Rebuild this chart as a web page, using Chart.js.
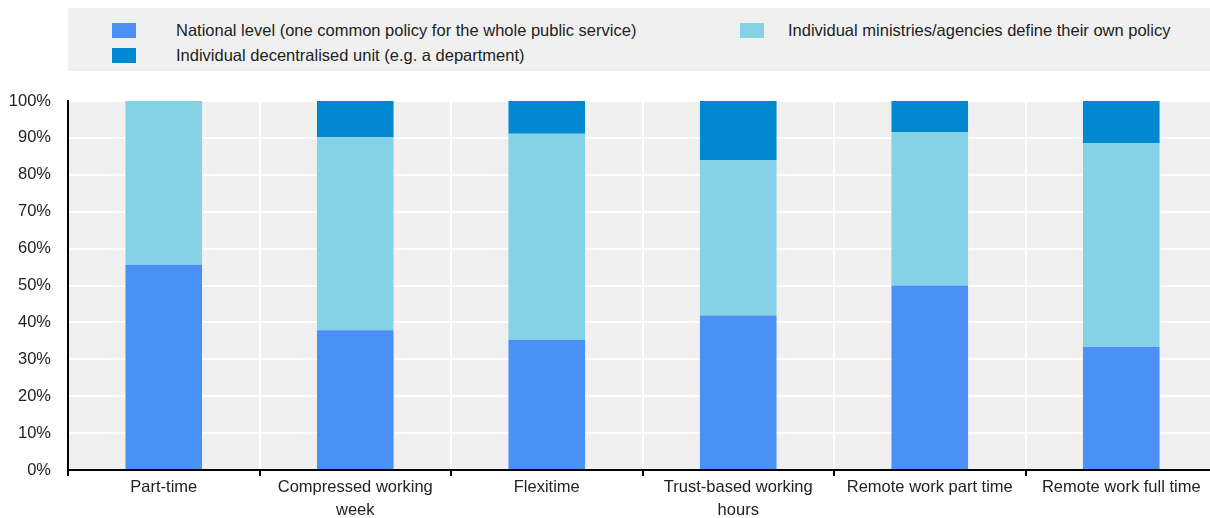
<!DOCTYPE html>
<html>
<head>
<meta charset="utf-8">
<script src="https://cdn.jsdelivr.net/npm/chart.js@4/dist/chart.umd.min.js"></script>
<style>
  html, body { margin: 0; padding: 0; background: #fff; }
  #wrap { position: relative; width: 1210px; height: 518px; overflow: hidden; font-family: "Liberation Sans", Arial, sans-serif; }
  #chart { position: absolute; left: 0; top: 0; }
  #legend { position: absolute; left: 68px; top: 8px; width: 1150px; height: 63px; background: #f0f0f0; }
  .item { position: absolute; font-size: 16.5px; color: #222; line-height: 18px; white-space: nowrap; }
  .item span.box { position: absolute; width: 24px; height: 15px; top: 1px; }
  .item span.txt { position: absolute; white-space: nowrap; }
</style>
</head>
<body>
<div id="wrap">
  <canvas id="chart" width="1217" height="518"></canvas>
  <div id="legend"></div>
</div>
<script>
const categories = [
    'Part-time',
    ['Compressed working', 'week'],
    'Flexitime',
    ['Trust-based working', 'hours'],
    'Remote work part time',
    'Remote work full time'
];
const nationalLevel = [55.6, 37.9, 35.3, 41.9, 50.0, 33.3];
const ministriesOwn = [44.4, 52.3, 55.8, 42.1, 41.6, 55.3];
const decentralUnit = [0, 9.8, 8.9, 16.0, 8.4, 11.4];
const yTicks = [0, 10, 20, 30, 40, 50, 60, 70, 80, 90, 100];

const seriesNames = [
    'National level (one common policy for the whole public service)',
    'Individual ministries/agencies define their own policy',
    'Individual decentralised unit (e.g. a department)'
];
const seriesColors = ['#4a90f5', '#85d1e5', '#0088d1'];

// legend laid out in two columns like the original: [left, top, text offset]
const legendSpots = [[44, 14, 64], [672, 14, 48], [44, 39, 64]];
const legendDiv = document.getElementById('legend');
seriesNames.forEach((name, i) => {
    const it = document.createElement('div');
    it.className = 'item';
    it.style.left = legendSpots[i][0] + 'px';
    it.style.top = legendSpots[i][1] + 'px';
    it.innerHTML = `<span class="box" style="left:0;background:${seriesColors[i]}"></span>` +
                   `<span class="txt" style="left:${legendSpots[i][2]}px;top:-1px">${name}</span>`;
    legendDiv.appendChild(it);
});

const plotBg = {
    id: 'plotBg',
    beforeDraw(chart) {
        const { ctx, chartArea: a } = chart;
        ctx.save();
        ctx.fillStyle = '#f0f0f0';
        ctx.fillRect(a.left, a.top, a.right - a.left, a.bottom - a.top);
        ctx.restore();
    }
};

const font = { family: '"Liberation Sans", Arial, sans-serif', size: 16.5, lineHeight: 1.4 };

new Chart(document.getElementById('chart'), {
    type: 'bar',
    data: {
        labels: categories,
        datasets: [nationalLevel, ministriesOwn, decentralUnit].map((d, i) => ({
            label: seriesNames[i],
            data: d,
            backgroundColor: seriesColors[i],
            borderWidth: 0,
            barPercentage: 0.4,
            categoryPercentage: 1
        }))
    },
    options: {
        responsive: false,
        animation: false,
        layout: { padding: { top: 101, left: 0, right: 0, bottom: 0 } },
        plugins: { legend: { display: false }, tooltip: { enabled: false } },
        scales: {
            x: {
                stacked: true,
                afterFit: s => { s.height = 48; },
                grid: { color: '#ffffff', lineWidth: 2, tickColor: '#000', tickLength: 6, tickWidth: 2 },
                border: { display: true, color: '#000', width: 2 },
                ticks: { color: '#222', font: font, padding: 0, maxRotation: 0, autoSkip: false }
            },
            y: {
                stacked: true,
                min: 0,
                max: 100,
                afterFit: s => { s.width = 68; },
                afterBuildTicks: s => { s.ticks = yTicks.map(v => ({ value: v })); },
                grid: { color: '#ffffff', lineWidth: 2, drawTicks: false },
                border: { display: true, color: '#000', width: 2 },
                ticks: { color: '#222', font: { family: font.family, size: 16.5 }, padding: 17, callback: v => v + '%' }
            }
        }
    },
    plugins: [plotBg]
});
</script>
</body>
</html>
